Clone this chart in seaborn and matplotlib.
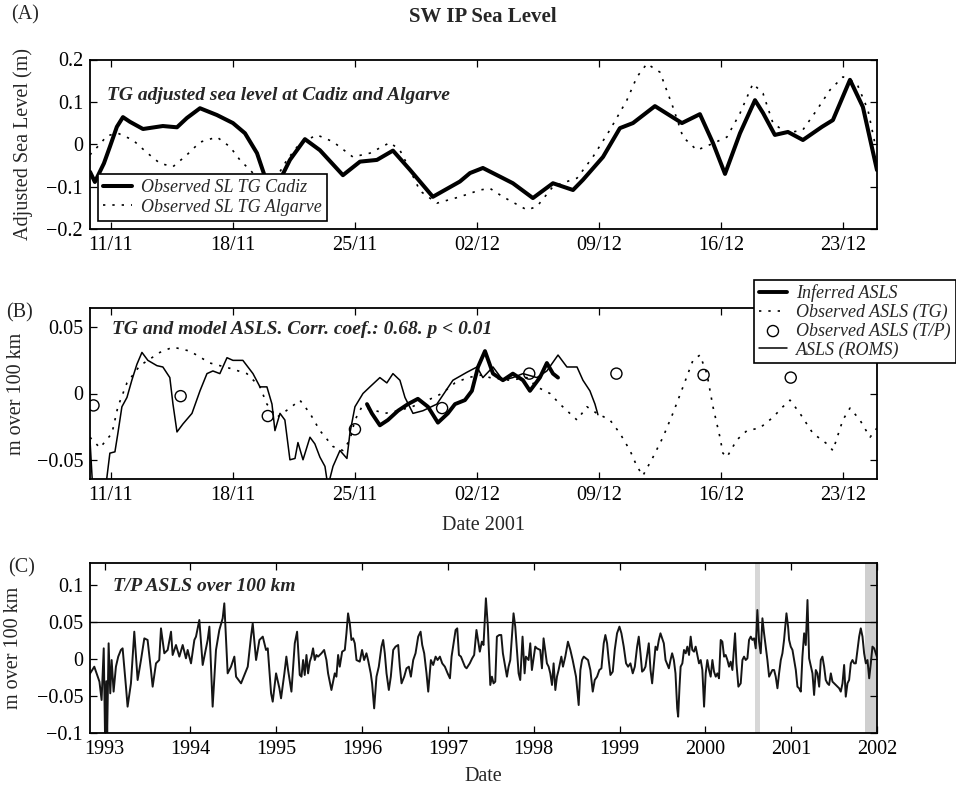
import matplotlib
matplotlib.use("Agg")
import matplotlib.pyplot as plt
import seaborn as sns
import pandas as pd
from matplotlib.ticker import FixedLocator, FixedFormatter
from matplotlib.font_manager import FontProperties

# ---------------- Panel A: TG adjusted sea level (days since 1 Nov 2001) ----------------
cadiz_day = [8.80, 9.08, 9.60, 9.94, 10.34, 10.69, 11.09, 11.84, 12.98, 13.79, 14.36, 15.11,
             16.08, 17.00, 17.69, 18.38, 18.84, 19.24, 19.70, 20.27, 21.13, 21.99, 23.31,
             24.29, 25.26, 26.18, 27.15, 28.47, 30.02, 30.60, 31.34, 32.49, 33.06, 34.21,
             35.36, 36.51, 37.08, 38.23, 39.20, 39.95, 41.21, 42.76, 43.79, 44.54, 45.23,
             46.09, 46.95, 47.41, 48.09, 48.84, 49.70, 50.79, 51.42, 52.40, 53.14, 53.95]
cadiz_sl = [-0.065, -0.089, -0.045, -0.006, 0.041, 0.064, 0.053, 0.036, 0.043, 0.040, 0.062, 0.085,
            0.069, 0.050, 0.026, -0.021, -0.077, -0.100, -0.084, -0.037, 0.012, -0.014, -0.073,
            -0.041, -0.037, -0.015, -0.060, -0.124, -0.088, -0.068, -0.056, -0.080, -0.092, -0.127,
            -0.092, -0.108, -0.084, -0.030, 0.038, 0.050, 0.090, 0.050, 0.071, 0.003, -0.070,
            0.026, 0.104, 0.074, 0.022, 0.029, 0.010, 0.041, 0.057, 0.152, 0.088, -0.061]

algarve_day = [8.80, 8.91, 9.37, 9.77, 10.40, 11.26, 12.07, 12.81, 13.56, 14.36, 15.11, 16.08,
               16.83, 17.40, 18.15, 18.72, 19.12, 19.52, 20.10, 20.84, 21.82, 22.74, 23.88,
               24.86, 26.01, 26.58, 27.15, 27.73, 28.70, 30.02, 31.17, 31.74, 32.49, 33.87,
               34.44, 35.36, 36.16, 36.74, 37.65, 38.63, 39.60, 40.18, 40.75, 41.50, 42.24,
               42.82, 43.62, 44.54, 45.34, 46.09, 46.83, 47.41, 47.98, 48.78, 49.70, 50.50,
               51.25, 52.00, 52.80, 53.43, 53.83]
algarve_sl = [-0.025, -0.020, 0.000, 0.020, 0.026, 0.010, -0.020, -0.045, -0.053, -0.025, 0.005, 0.017,
              -0.006, -0.037, -0.068, -0.084, -0.090, -0.077, -0.037, 0.002, 0.022, 0.006, -0.030,
              -0.021, 0.004, -0.014, -0.060, -0.110, -0.139, -0.124, -0.108, -0.104, -0.124, -0.155,
              -0.147, -0.100, -0.088, -0.080, -0.030, 0.034, 0.104, 0.159, 0.190, 0.170, 0.088,
              0.017, -0.014, 0.002, 0.017, 0.073, 0.143, 0.120, 0.050, 0.026, 0.034, 0.081,
              0.128, 0.159, 0.143, 0.081, 0.002]

# ---------------- Panel B: ASLS ----------------
tg_day = [8.80, 9.37, 10.06, 10.40, 10.92, 11.66, 12.81, 13.56, 14.53, 15.68, 16.83, 17.80,
          18.55, 18.95, 19.52, 20.27, 20.84, 21.42, 21.99, 22.74, 23.31, 23.71, 24.00, 24.40,
          25.72, 26.47, 27.27, 28.19, 28.99, 29.74, 30.48, 31.29, 31.74, 32.89, 33.87, 34.44,
          35.19, 35.76, 36.33, 36.74, 37.31, 37.88, 38.63, 39.20, 39.78, 40.18, 40.52, 41.10,
          41.67, 42.24, 42.82, 43.39, 43.79, 44.19, 44.54, 44.94, 45.11, 45.34, 45.91, 46.49,
          47.23, 47.98, 48.55, 48.96, 49.53, 50.27, 51.08, 51.42, 51.99, 52.40, 52.97, 53.55, 53.95]
tg_asls = [-0.033, -0.041, -0.030, -0.010, 0.008, 0.021, 0.031, 0.035, 0.032, 0.023, 0.019, 0.015,
           0.005, -0.008, -0.018, -0.011, -0.005, -0.015, -0.028, -0.040, -0.043, -0.035, -0.020, -0.010,
           -0.015, -0.013, -0.010, -0.005, 0.000, 0.008, 0.012, 0.014, 0.012, 0.010, 0.012, 0.005,
           0.000, -0.008, -0.015, -0.020, -0.010, -0.015, -0.020, -0.030, -0.043, -0.055, -0.062, -0.048,
           -0.033, -0.015, 0.005, 0.025, 0.029, 0.015, -0.010, -0.033, -0.045, -0.048, -0.035, -0.028,
           -0.026, -0.018, -0.010, -0.005, -0.015, -0.030, -0.038, -0.043, -0.020, -0.011, -0.020, -0.033, -0.026]

roms_day = [8.80, 8.97, 9.66, 9.94, 10.23, 10.40, 10.63, 10.92, 11.20, 11.49, 11.78, 12.12,
            12.64, 12.98, 13.38, 13.56, 13.79, 14.13, 14.65, 15.11, 15.51, 15.85, 16.25, 16.66,
            17.00, 17.57, 18.15, 18.55, 18.95, 19.24, 19.41, 19.70, 19.98, 20.27, 20.56, 20.73,
            21.02, 21.42, 21.70, 21.99, 22.28, 22.45, 22.74, 23.14, 23.54, 23.71, 24.00, 24.46,
            24.86, 25.43, 25.83, 26.18, 26.58, 26.87, 27.33, 27.90, 28.70, 29.62, 30.42, 31.00,
            31.34, 31.92, 32.49, 33.06, 33.64, 34.44, 35.01, 35.65, 36.16, 36.74, 37.08, 37.48,
            37.77, 37.94]
roms_asls = [-0.035, -0.075, -0.075, -0.045, -0.044, -0.030, -0.010, -0.003, 0.010, 0.022, 0.031, 0.025,
             0.021, 0.020, 0.012, -0.008, -0.029, -0.023, -0.015, 0.002, 0.015, 0.017, 0.015, 0.027,
             0.025, 0.025, 0.015, 0.005, 0.005, -0.008, -0.028, -0.015, -0.020, -0.050, -0.049, -0.037,
             -0.050, -0.033, -0.038, -0.048, -0.055, -0.070, -0.055, -0.043, -0.049, -0.030, -0.010, 0.000,
             0.005, 0.012, 0.008, 0.015, 0.010, -0.003, -0.015, -0.013, -0.008, 0.010, 0.016, 0.020,
             0.012, 0.020, 0.010, 0.012, 0.015, 0.012, 0.017, 0.029, 0.020, 0.020, 0.010, 0.002,
             -0.008, -0.016]

inferred_day = [24.69, 24.97, 25.43, 25.89, 26.47, 27.04, 27.61, 28.19, 28.76, 29.33, 29.74, 30.31,
                30.71, 31.06, 31.46, 31.92, 32.49, 33.06, 33.64, 34.04, 34.61, 35.01, 35.36, 35.65]
inferred_asls = [-0.008, -0.015, -0.024, -0.020, -0.013, -0.008, -0.004, -0.010, -0.022, -0.015, -0.008, -0.005,
                 0.002, 0.020, 0.032, 0.015, 0.010, 0.015, 0.010, 0.002, 0.012, 0.023, 0.015, 0.012]

tp_day = [9, 14, 19, 24, 29, 34, 39, 44, 49]
tp_asls = [-0.009, -0.002, -0.017, -0.027, -0.011, 0.015, 0.015, 0.014, 0.012]

# ---------------- Panel C: T/P ASLS time series ----------------
tp_year = [1992.82, 1992.88, 1992.94, 1992.965, 1992.99, 1993.005, 1993.02, 1993.03, 1993.047, 1993.066,
           1993.082, 1993.105, 1993.132, 1993.159, 1993.19, 1993.21, 1993.249, 1993.268, 1993.307, 1993.346,
           1993.385, 1993.424, 1993.463, 1993.501, 1993.540, 1993.560, 1993.599, 1993.637, 1993.657, 1993.696,
           1993.735, 1993.774, 1993.793, 1993.832, 1993.871, 1993.910, 1993.948, 1993.968, 1994.007, 1994.046,
           1994.065, 1994.104, 1994.143, 1994.201, 1994.221, 1994.259, 1994.298, 1994.337, 1994.376, 1994.395,
           1994.434, 1994.473, 1994.512, 1994.532, 1994.590, 1994.629, 1994.668, 1994.706, 1994.726, 1994.765,
           1994.804, 1994.843, 1994.881, 1994.901, 1994.940, 1994.959, 1994.998, 1995.037, 1995.056, 1995.095,
           1995.118, 1995.138, 1995.177, 1995.216, 1995.243, 1995.274, 1995.294, 1995.313, 1995.332, 1995.352,
           1995.371, 1995.391, 1995.410, 1995.429, 1995.449, 1995.468, 1995.488, 1995.527, 1995.558, 1995.585,
           1995.604, 1995.643, 1995.682, 1995.701, 1995.721, 1995.740, 1995.768, 1995.799, 1995.818, 1995.837,
           1995.857, 1995.876, 1995.896, 1995.915, 1995.935, 1995.973, 1996.000, 1996.024, 1996.051, 1996.070,
           1996.101, 1996.117, 1996.141, 1996.168, 1996.195, 1996.226, 1996.246, 1996.265, 1996.285, 1996.312,
           1996.335, 1996.363, 1996.390, 1996.421, 1996.440, 1996.460, 1996.491, 1996.518, 1996.545, 1996.569,
           1996.596, 1996.623, 1996.654, 1996.682, 1996.701, 1996.724, 1996.751, 1996.771, 1996.802, 1996.829,
           1996.857, 1996.880, 1996.907, 1996.934, 1996.965, 1996.997, 1997.024, 1997.043, 1997.063, 1997.090,
           1997.109, 1997.129, 1997.152, 1997.199, 1997.218, 1997.255, 1997.283, 1997.306, 1997.333, 1997.372,
           1997.396, 1997.415, 1997.443, 1997.466, 1997.494, 1997.513, 1997.532, 1997.552, 1997.571, 1997.598,
           1997.622, 1997.641, 1997.668, 1997.688, 1997.707, 1997.727, 1997.765, 1997.785, 1997.804, 1997.824,
           1997.843, 1997.870, 1997.894, 1997.909, 1997.940, 1997.960, 1997.979, 1998.018, 1998.037, 1998.076,
           1998.096, 1998.115, 1998.154, 1998.174, 1998.193, 1998.213, 1998.232, 1998.252, 1998.271, 1998.290,
           1998.322, 1998.341, 1998.368, 1998.399, 1998.427, 1998.454, 1998.493, 1998.524, 1998.544, 1998.563,
           1998.583, 1998.633, 1998.660, 1998.688, 1998.711, 1998.738, 1998.765, 1998.789, 1998.816, 1998.835,
           1998.855, 1998.874, 1998.894, 1998.921, 1998.944, 1998.971, 1998.999, 1999.022, 1999.049, 1999.076,
           1999.100, 1999.127, 1999.154, 1999.178, 1999.205, 1999.224, 1999.244, 1999.263, 1999.283, 1999.302,
           1999.322, 1999.341, 1999.361, 1999.380, 1999.419, 1999.438, 1999.458, 1999.477, 1999.497, 1999.516,
           1999.536, 1999.575, 1999.594, 1999.613, 1999.633, 1999.652, 1999.672, 1999.683, 1999.699, 1999.712,
           1999.732, 1999.751, 1999.771, 1999.790, 1999.810, 1999.829, 1999.848, 1999.868, 1999.887, 1999.926,
           1999.946, 1999.965, 1999.985, 2000.004, 2000.023, 2000.043, 2000.062, 2000.082, 2000.101, 2000.121,
           2000.140, 2000.159, 2000.179, 2000.198, 2000.218, 2000.237, 2000.257, 2000.276, 2000.295, 2000.315,
           2000.334, 2000.346, 2000.362, 2000.385, 2000.412, 2000.432, 2000.451, 2000.470, 2000.490, 2000.509,
           2000.529, 2000.548, 2000.568, 2000.587, 2000.606, 2000.626, 2000.645, 2000.665, 2000.684, 2000.704,
           2000.723, 2000.743, 2000.781, 2000.801, 2000.820, 2000.840, 2000.859, 2000.879, 2000.898, 2000.917,
           2000.945, 2000.964, 2000.976, 2000.995, 2001.015, 2001.034, 2001.054, 2001.073, 2001.092, 2001.112,
           2001.131, 2001.151, 2001.170, 2001.190, 2001.209, 2001.248, 2001.267, 2001.287, 2001.306, 2001.326,
           2001.345, 2001.364, 2001.384, 2001.403, 2001.423, 2001.442, 2001.462, 2001.481, 2001.520, 2001.539,
           2001.559, 2001.578, 2001.598, 2001.617, 2001.636, 2001.656, 2001.675, 2001.695, 2001.714, 2001.734,
           2001.753, 2001.792, 2001.811, 2001.831, 2001.850, 2001.870, 2001.889, 2001.909, 2001.928, 2001.947,
           2001.967, 2001.986, 2001.998]
tp_series = [-0.0216, -0.0104, -0.0306, -0.0554, 0.0144, -0.102, -0.030, -0.102, 0.0212, -0.0464,
             -0.0014, -0.0441, -0.0104, 0.0032, 0.0122, 0.0144, -0.0374, -0.0644, -0.0329, 0.0369,
             -0.0284, -0.0014, 0.0279, 0.0257, -0.0149, -0.0374, -0.0059, -0.0014, 0.0414, 0.0077,
             0.0122, 0.0369, 0.0054, 0.0189, 0.0032, 0.0189, 0.0009, 0.0122, -0.0059, 0.0257,
             0.0302, 0.0527, -0.0081, 0.0257, 0.0437, -0.0644, 0.0122, 0.0392, 0.0550, 0.0752,
             -0.0194, -0.0104, 0.0032, -0.0239, -0.0329, -0.0216, -0.0104, 0.0302, 0.0482, -0.0014,
             0.0257, 0.0302, 0.0122, 0.0144, -0.0464, -0.0577, -0.0194, -0.0396, -0.0532, -0.0194,
             0.0032, -0.0149, -0.0441, 0.0212, 0.0369, -0.0216, -0.0239, -0.0014, -0.0216, 0.0054,
             -0.0194, -0.0036, 0.0032, 0.0144, -0.0014, 0.0054, 0.0032, 0.0077, 0.0122, -0.0014,
             -0.0194, -0.0419, -0.0194, -0.0239, 0.0054, -0.0104, 0.0099, 0.0122, 0.0347, 0.0617,
             0.0482, 0.0257, 0.0279, 0.0212, -0.0014, -0.0036, 0.0122, -0.0014, 0.0077, -0.0014,
             -0.0194, -0.0329, -0.0667, -0.0239, -0.0104, 0.0167, 0.0257, 0.0077, -0.0194, -0.0419,
             -0.0239, 0.0122, 0.0167, 0.0189, -0.0104, -0.0329, -0.0239, -0.0126, -0.0104, -0.0239,
             -0.0014, 0.0077, 0.0302, 0.0369, 0.0189, 0.0077, -0.0194, -0.0441, -0.0014, -0.0081,
             0.0032, -0.0014, 0.0032, -0.0059, -0.0104, -0.0194, -0.0261, 0.0032, 0.0189, 0.0392,
             0.0414, 0.0054, 0.0032, -0.0104, -0.0126, -0.0059, 0.0009, 0.0054, 0.0392, 0.0099,
             0.0234, 0.0189, 0.0820, 0.0437, -0.0351, -0.0239, -0.0329, -0.0306, 0.0302, 0.0324,
             0.0324, 0.0077, -0.0104, -0.0239, -0.0104, -0.0014, 0.0617, 0.0437, 0.0122, -0.0194,
             -0.0284, 0.0302, -0.0194, 0.0032, -0.0014, 0.0212, -0.0149, 0.0167, 0.0144, 0.0122,
             -0.0126, 0.0279, -0.0059, -0.0104, -0.0194, -0.0351, -0.0059, -0.0419, -0.0239, -0.0149,
             0.0032, -0.0104, 0.0032, 0.0234, 0.0122, -0.0014, -0.0239, -0.0622, -0.0149, -0.0014,
             0.0032, -0.0014, -0.0149, -0.0441, -0.0284, -0.0239, -0.0149, -0.0126, 0.0212, 0.0324,
             0.0212, -0.0014, -0.0216, -0.0171, 0.0122, 0.0347, 0.0437, 0.0347, 0.0167, -0.0059,
             -0.0104, -0.0059, -0.0194, -0.0104, 0.0167, 0.0302, 0.0077, -0.0171, -0.0149, -0.0104,
             0.0054, 0.0212, -0.0149, -0.0329, 0.0167, 0.0122, 0.0257, 0.0347, 0.0279, 0.0212,
             -0.0014, -0.0126, -0.0014, 0.0077, -0.0014, -0.0194, -0.0667, -0.0779, -0.0374, -0.0104,
             -0.0059, 0.0122, 0.0077, 0.0167, 0.0054, 0.0302, 0.0122, 0.0099, 0.0167, -0.0059,
             -0.0014, -0.0149, -0.0644, -0.0194, -0.0014, -0.0149, -0.0239, -0.0014, -0.0171, -0.0239,
             -0.0194, -0.0261, 0.0257, 0.0234, 0.0032, 0.0054, -0.0014, -0.0104, -0.0036, -0.0149,
             0.0167, 0.0347, -0.0059, -0.0374, -0.0329, -0.0014, 0.0032, -0.0014, 0.0009, 0.0257,
             0.0302, 0.0257, 0.0279, 0.0144, 0.0662, 0.0234, 0.0077, 0.0550, 0.0347, 0.0167,
             -0.0014, -0.0239, -0.0149, -0.0149, -0.0239, -0.0396, -0.0194, -0.0014, 0.0077, 0.0257,
             0.0617, 0.0437, 0.0257, 0.0167, 0.0122, -0.0014, -0.0149, -0.0374, -0.0396, -0.0441,
             0.0032, 0.0347, 0.0189, 0.0797, 0.0009, -0.0194, -0.0486, -0.0149, -0.0194, -0.0374,
             -0.0014, 0.0032, -0.0104, -0.0284, -0.0329, -0.0351, -0.0194, -0.0306, -0.0351, -0.0374,
             -0.0396, -0.0441, -0.0329, -0.0081, -0.0509, -0.0329, -0.0284, -0.0059, -0.0014, -0.0059,
             -0.0059, 0.0302, 0.0414, 0.0302, 0.0077, -0.0059, -0.0014, -0.0261, -0.0059, 0.0167,
             0.0144, 0.0077, 0.0032]
tp_threshold = 0.05
band_start = [2000.58, 2001.86]
band_end = [2000.64, 2002.00]
band_colors = ["#d7d7d7", "#cfcfcf"]

# ---------------- Axis ticks / labels ----------------
date_ticks = [10, 17, 24, 31, 38, 45, 52]
date_labels = ["11/11", "18/11", "25/11", "02/12", "09/12", "16/12", "23/12"]
date_lim = [8.8, 53.95]
a_yticks = [-0.2, -0.1, 0, 0.1, 0.2]
a_ylabels = ["\u22120.2", "\u22120.1", "0", "0.1", "0.2"]
b_yticks = [-0.05, 0, 0.05]
b_ylabels = ["\u22120.05", "0", "0.05"]
c_yticks = [-0.1, -0.05, 0, 0.05, 0.1]
c_ylabels = ["\u22120.1", "\u22120.05", "0", "0.05", "0.1"]
year_ticks = [1993, 1994, 1995, 1996, 1997, 1998, 1999, 2000, 2001, 2002]
year_labels = [str(y) for y in year_ticks]

# ---------------- Style ----------------
sns.set_style("ticks")
plt.rcParams["font.family"] = ["Liberation Serif", "DejaVu Serif"]
plt.rcParams["axes.unicode_minus"] = True

fig = plt.figure(figsize=(9.56, 7.86), dpi=100)
W, H = 956.0, 786.0
def box(l, t, r, b):
    return [l / W, 1 - b / H, (r - l) / W, (b - t) / H]

axA = fig.add_axes(box(90, 59.5, 877, 229))
axB = fig.add_axes(box(90, 308, 877, 479))
axC = fig.add_axes(box(90, 563, 877, 733))

TICK_FS = 14.5
def style(ax):
    for s in ax.spines.values():
        s.set_visible(True)
        s.set_linewidth(1.3)
        s.set_color("black")
    ax.tick_params(direction="in", top=True, right=True, length=5, width=0.9,
                   labelsize=TICK_FS, colors="black", pad=5)
    ax.grid(False)
    ax.set_facecolor("white")

leg_font = FontProperties(family="Liberation Serif", style="italic", size=13)
ann_font = dict(fontsize=14, fontweight="bold", fontstyle="italic", family="Liberation Serif")
dot_ls = (0, (1.4, 4.2))

# ---- Panel A ----
dfA1 = pd.DataFrame({"day": cadiz_day, "sl": cadiz_sl})
dfA2 = pd.DataFrame({"day": algarve_day, "sl": algarve_sl})
sns.lineplot(data=dfA1, x="day", y="sl", ax=axA, color="black", linewidth=2.9,
             estimator=None, sort=False, label="Observed SL TG Cadiz")
sns.lineplot(data=dfA2, x="day", y="sl", ax=axA, color="black", linewidth=1.2,
             linestyle=dot_ls, estimator=None, sort=False, label="Observed SL TG Algarve")
axA.set_xlim(*date_lim)
axA.set_ylim(-0.2, 0.2)
axA.xaxis.set_major_locator(FixedLocator(date_ticks))
axA.xaxis.set_major_formatter(FixedFormatter(date_labels))
axA.yaxis.set_major_locator(FixedLocator(a_yticks))
axA.yaxis.set_major_formatter(FixedFormatter(a_ylabels))
style(axA)
axA.set_xlabel("")
axA.set_ylabel("Adjusted Sea Level (m)", fontsize=14.5)
axA.yaxis.set_label_coords(-0.073, 0.5)
axA.text(0.022, 0.79, "TG adjusted sea level at Cadiz and Algarve", transform=axA.transAxes,
         ha="left", va="center", **ann_font)
legA = axA.legend(loc="lower left", bbox_to_anchor=(0.010, 0.047), borderaxespad=0,
                  frameon=True, fancybox=False, edgecolor="black", framealpha=1,
                  prop=leg_font, handlelength=1.6, handletextpad=0.5, labelspacing=0.12,
                  borderpad=0.3)
legA.get_frame().set_linewidth(1.2)

# ---- Panel B ----
dfB_inf = pd.DataFrame({"day": inferred_day, "v": inferred_asls})
dfB_tg = pd.DataFrame({"day": tg_day, "v": tg_asls})
dfB_tp = pd.DataFrame({"day": tp_day, "v": tp_asls})
dfB_roms = pd.DataFrame({"day": roms_day, "v": roms_asls})
sns.lineplot(data=dfB_roms, x="day", y="v", ax=axB, color="black", linewidth=1.1,
             estimator=None, sort=False, label="ASLS (ROMS)")
sns.lineplot(data=dfB_tg, x="day", y="v", ax=axB, color="black", linewidth=1.2,
             linestyle=dot_ls, estimator=None, sort=False, label="Observed ASLS (TG)")
sns.lineplot(data=dfB_inf, x="day", y="v", ax=axB, color="black", linewidth=2.8,
             estimator=None, sort=False, label="Inferred ASLS")
sns.scatterplot(data=dfB_tp, x="day", y="v", ax=axB, marker="o", s=64,
                facecolor="none", edgecolor="black", linewidth=1.0, label="Observed ASLS (T/P)")
axB.set_xlim(*date_lim)
axB.set_ylim(-0.0645, 0.0645)
axB.xaxis.set_major_locator(FixedLocator(date_ticks))
axB.xaxis.set_major_formatter(FixedFormatter(date_labels))
axB.yaxis.set_major_locator(FixedLocator(b_yticks))
axB.yaxis.set_major_formatter(FixedFormatter(b_ylabels))
style(axB)
axB.set_xlabel("Date 2001", fontsize=14.5, labelpad=8)
axB.set_ylabel("m over 100 km", fontsize=14.5)
axB.yaxis.set_label_coords(-0.081, 0.5)
axB.text(0.028, 0.877, "TG and model ASLS. Corr. coef.: 0.68. p < 0.01", transform=axB.transAxes,
         ha="left", va="center", **ann_font)
hB, lB = axB.get_legend_handles_labels()
order = ["Inferred ASLS", "Observed ASLS (TG)", "Observed ASLS (T/P)", "ASLS (ROMS)"]
hmap = dict(zip(lB, hB))
legB = axB.legend([hmap[k] for k in order], order, loc="upper left",
                  bbox_to_anchor=(0.8437, 1.164), borderaxespad=0, frameon=True,
                  fancybox=False, edgecolor="black", framealpha=1, prop=leg_font,
                  handlelength=1.6, handletextpad=0.5, labelspacing=0.08, borderpad=0.25)
legB.get_frame().set_linewidth(1.2)
legB.set_zorder(10)

# ---- Panel C ----
for s, e, c in zip(band_start, band_end, band_colors):
    axC.axvspan(s, e, color=c, lw=0, zorder=0)
axC.axhline(tp_threshold, color="black", linewidth=0.9, zorder=1)
dfC = pd.DataFrame({"year": tp_year, "v": tp_series})
sns.lineplot(data=dfC, x="year", y="v", ax=axC, color="#151515", linewidth=1.4,
             estimator=None, sort=False)
axC.set_xlim(1992.83, 2002.0)
axC.set_ylim(-0.1, 0.1297)
axC.xaxis.set_major_locator(FixedLocator(year_ticks))
axC.xaxis.set_major_formatter(FixedFormatter(year_labels))
axC.yaxis.set_major_locator(FixedLocator(c_yticks))
axC.yaxis.set_major_formatter(FixedFormatter(c_ylabels))
style(axC)
axC.set_xlabel("Date", fontsize=14.5, labelpad=6)
axC.set_ylabel("m over 100 km", fontsize=14.5)
axC.yaxis.set_label_coords(-0.085, 0.5)
axC.text(0.029, 0.859, "T/P ASLS over 100 km", transform=axC.transAxes,
         ha="left", va="center", **ann_font)

# ---- Figure texts ----
fig.text(0.505, 0.978, "SW IP Sea Level", ha="center", va="center", fontsize=15, fontweight="bold")
fig.text(0.012, 0.981, "(A)", ha="left", va="center", fontsize=14.5)
fig.text(0.006, 0.602, "(B)", ha="left", va="center", fontsize=14.5)
fig.text(0.008, 0.277, "(C)", ha="left", va="center", fontsize=14.5)

fig.savefig("out.png", dpi=100, facecolor="white")
